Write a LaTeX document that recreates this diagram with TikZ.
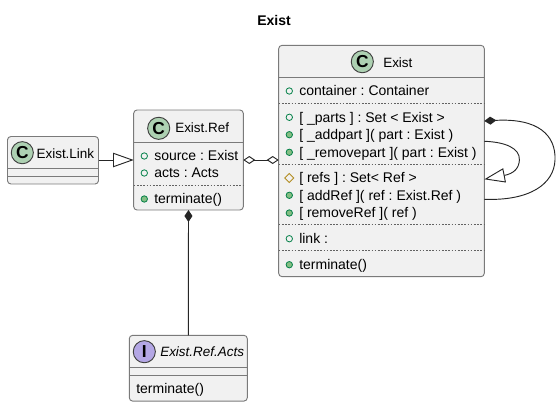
\documentclass[tikz,border=0pt]{standalone}
\usepackage{fontspec}
\setmainfont{Liberation Sans}
\usetikzlibrary{positioning,arrows.meta,shapes.geometric}
\definecolor{boxfill}{HTML}{F1F1F1}
\definecolor{boxline}{HTML}{7A7A7A}
\definecolor{classspot}{HTML}{ADD1B2}
\definecolor{ifacespot}{HTML}{B4A7E5}
\definecolor{publine}{HTML}{038048}
\definecolor{pubfill}{HTML}{84BE84}
\definecolor{protline}{HTML}{B38D22}
\frenchspacing

\begin{document}
\begin{tikzpicture}[x=0.75pt, y=-0.75pt, font=\fontsize{10.5pt}{12pt}\selectfont,
  classbox/.style={draw=boxline, fill=boxfill, line width=0.7pt, rounded corners=2.5pt, inner sep=0pt, outer sep=0pt},
  spot/.style={draw=black!75, line width=0.7pt, circle, minimum size=16.6pt, inner sep=0pt, font=\fontsize{13pt}{13pt}\bfseries\selectfont},
  member/.style={anchor=west, inner sep=0pt, text height=8.2pt, text depth=1pt},
  header/.style={member, font=\fontsize{10.1pt}{12pt}\selectfont},
  pub/.style={draw=publine, circle, line width=0.6pt, minimum size=4.8pt, inner sep=0pt},
  met/.style={pub, fill=pubfill},
  prot/.style={draw=protline, diamond, line width=0.6pt, minimum size=7pt, inner sep=0pt},
  sep/.style={boxline!80!black, line width=0.5pt, dash pattern=on 1.2pt off 1.2pt},
  solidsep/.style={boxline, line width=0.7pt},
  link/.style={line width=0.7pt, black!85},
  opendia/.tip={Diamond[open, length=9pt, width=6pt]},
  soliddia/.tip={Diamond[length=9pt, width=6pt]},
  opentri/.tip={Triangle[open, length=15.5pt, width=10.8pt]}]
  \useasboundingbox (0,0) rectangle (560,407);
  \node[font=\fontsize{10.5pt}{12pt}\bfseries\selectfont] (title) at (274,20) {Exist};

  % classes
  \node[classbox, minimum width=154.2pt, minimum height=173.5pt] (exist) at (381.5,161) {};
  \node[classbox, minimum width=82.2pt, minimum height=75pt] (ref) at (188.5,160) {};
  \node[classbox, minimum width=68.25pt, minimum height=35.6pt] (extlink) at (53,160.25) {};
  \node[classbox, minimum width=88.5pt, minimum height=49.3pt] (acts) at (188.3,368.2) {};

  % compartments
  \draw[solidsep] (exist.west |- 0,77.3) -- (exist.east |- 0,77.3);
  \foreach \y in {103.3,164.3,224.3,250} \draw[sep] (exist.west |- 0,\y) -- (exist.east |- 0,\y);
  \draw[solidsep] (ref.west |- 0,142.3) -- (ref.east |- 0,142.3);
  \draw[sep] (ref.west |- 0,185.3) -- (ref.east |- 0,185.3);
  \foreach \y in {168.3,176.3} \draw[solidsep] (extlink.west |- 0,\y) -- (extlink.east |- 0,\y);
  \foreach \y in {367.3,375.3} \draw[solidsep] (acts.west |- 0,\y) -- (acts.east |- 0,\y);

  % headers
  \node[spot, fill=classspot] (existspot) at (362.3,61.7) {C};
  \node[header] (existname) at (383,62.5) {Exist};
  \node[spot, fill=classspot] (refspot) at (158.7,128.3) {C};
  \node[header] (refname) at (175,127.5) {Exist.Ref};
  \node[spot, fill=classspot] (linkspot) at (22.3,152.7) {C};
  \node[header] (linkname) at (36.3,153.5) {Exist.Link};
  \node[spot, fill=ifacespot] (actsspot) at (144.3,351.7) {I};
  \node[header, font=\fontsize{10.1pt}{12pt}\itshape\selectfont] (actsname) at (160,351.7) {Exist.Ref.Acts};

  % members of Exist
  \foreach \n/\y/\kind/\txt in {
    a/91/pub/{container : Container},
    b/117.3/pub/{[ \_parts ] : Set < Exist >},
    c/134.7/met/{[ \_addpart ]( part : Exist )},
    d/152.3/met/{[ \_removepart ]( part : Exist )},
    e/178/prot/{[ refs ] : Set< Ref >},
    f/195.3/met/{[ addRef ]( ref : Exist.Ref )},
    g/213/met/{[ removeRef ]( ref )},
    h/238.7/pub/{link :},
    i/264.7/met/{terminate()}}
  {
    \node[\kind] (mark\n) at (289.3,\y) {};
    \node[member] (text\n) at (299,\y) {\txt};
  }

  % members of Exist.Ref
  \foreach \n/\y/\kind/\txt in {
    j/156/pub/{source : Exist},
    k/173/pub/{acts : Acts},
    l/199/met/{terminate()}}
  {
    \node[\kind] (mark\n) at (144.3,\y) {};
    \node[member] (text\n) at (154,\y) {\txt};
  }

  \node[member] (textm) at (136,389) {terminate()};

  % connectors
  \draw[link, -{opentri}] (extlink.east |- ref.east) -- (ref.west);
  \draw[link, {opendia}-{opendia}] (ref.east) -- (ref.east -| exist.west);
  \draw[link, {soliddia}-] (ref.south) -- (acts.north);
  \coordinate (loopa) at (exist.east |- 0,121);
  \coordinate (loopb) at (exist.east |- 0,199.3);
  \coordinate (loopc) at (exist.east |- 0,141.3);
  \coordinate (loopd) at (exist.east |- 0,179.3);
  \draw[link, {soliddia}-] (loopa) .. controls (538,118) and (556,135) .. (555,160)
    .. controls (554,184) and (530,201) .. (loopb);
  \draw[link, -{opentri}] (loopc) .. controls (505,142) and (520,148) .. (519.4,160)
    .. controls (519,169) and (513,173.7) .. (loopd);
\end{tikzpicture}
\end{document}
